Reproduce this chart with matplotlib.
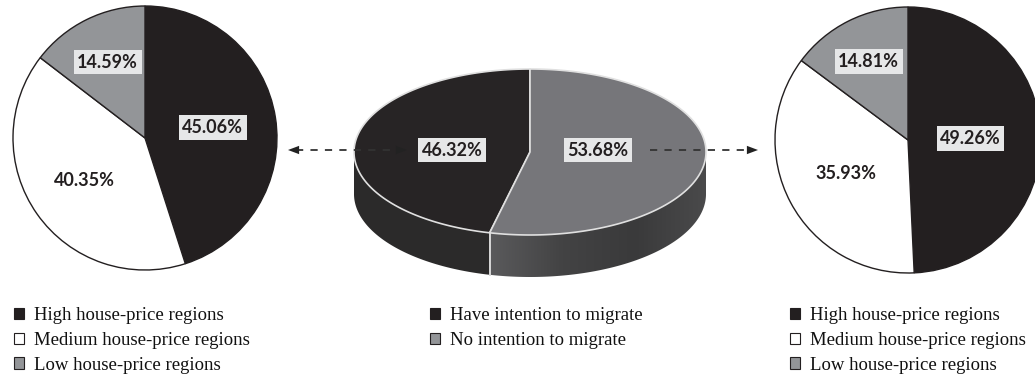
import numpy as np
import matplotlib
matplotlib.use('Agg')
import matplotlib.pyplot as plt
from matplotlib.patches import Patch, Polygon
from matplotlib.legend import Legend

# data
migrate_labels = ['Have intention to migrate', 'No intention to migrate']
migrate_share = [46.32, 53.68]

region_labels = ['High house-price regions', 'Medium house-price regions', 'Low house-price regions']
have_intention = [45.06, 40.35, 14.59]
no_intention = [49.26, 35.93, 14.81]

W, H = 1035, 375
BLACK = '#231f20'
GREY = '#939598'
BOXC = '#e6e7e8'
region_colors = [BLACK, 'white', GREY]

fig = plt.figure(figsize=(W / 100, H / 100), dpi=100)
ax = fig.add_axes([0, 0, 1, 1])


def Y(py):
    return H - py


label_font = dict(family=['Lato', 'DejaVu Sans'], weight='bold', fontsize=13, color=BLACK)


def flat_pie(values, center, radius, label_r, boxed):
    ax.pie(values, colors=region_colors, startangle=90, counterclock=False,
           center=center, radius=radius, frame=True,
           wedgeprops=dict(edgecolor=BLACK, linewidth=1.0))
    total = sum(values)
    start = 90.0
    for v, r, b in zip(values, label_r, boxed):
        span = v / total * 360
        mid = np.deg2rad(start - span / 2)
        start -= span
        x = center[0] + r * radius * np.cos(mid)
        y = center[1] + r * radius * np.sin(mid)
        bbox = dict(boxstyle='square,pad=0.2', fc=BOXC, ec='none') if b else None
        ax.text(x, y, f'{v:.2f}%', ha='center', va='center', bbox=bbox, **label_font)


flat_pie(have_intention, (145, Y(138)), 132, [0.52, 0.56, 0.64], [True, False, True])
flat_pie(no_intention, (908, Y(140)), 133, [0.47, 0.53, 0.66], [True, False, True])

# 3d pie in the middle
cx, cy, a, b, depth = 530, Y(152), 176, 83, 42
top_colors = ['#272425', '#76767a']
total = sum(migrate_share)
start = 90.0
bounds = []
for v in migrate_share:
    span = v / total * 360
    bounds.append((start, start + span))
    start += span

# sides (front half only, angles 180..360)
for i, (a0, a1) in enumerate(bounds):
    lo, hi = max(a0, 180), min(a1, 360)
    if hi <= lo:
        continue
    ts = np.deg2rad(np.linspace(lo, hi, 120))
    xs = cx + a * np.cos(ts)
    ys = cy + b * np.sin(ts)
    side = list(zip(xs, ys)) + list(zip(xs[::-1], ys[::-1] - depth))
    if i == 0:
        ax.add_patch(Polygon(side, closed=True, fc='#2b2a2a', ec='none'))
    else:
        clip = Polygon(side, closed=True, fc='none', ec='none')
        ax.add_patch(clip)
        grad = np.linspace(0.0, 1.0, 256).reshape(1, -1)
        x0, x1 = xs.min(), xs.max()
        img = ax.imshow(grad, cmap=matplotlib.colors.LinearSegmentedColormap.from_list(
            'side', ['#5a5a5c', '#434344', '#3a3a3b', '#4a4a4b']),
            extent=(x0, x1, ys.min() - depth, ys.max()), aspect='auto', zorder=1)
        img.set_clip_path(clip)
    # vertical edge at wedge border
    for t in (a0, a1):
        tt = t % 360
        if 180 < tt < 360:
            x0 = cx + a * np.cos(np.deg2rad(tt))
            y0 = cy + b * np.sin(np.deg2rad(tt))
            ax.plot([x0, x0], [y0, y0 - depth], color='#d8d8d8', lw=1.2, zorder=2)

for (a0, a1), col in zip(bounds, top_colors):
    ts = np.deg2rad(np.linspace(a0, a1, 200))
    pts = [(cx, cy)] + list(zip(cx + a * np.cos(ts), cy + b * np.sin(ts)))
    ax.add_patch(Polygon(pts, closed=True, fc=col, ec='#e0e0e0', lw=1.2, zorder=3))

ax.text(452, Y(150), f'{migrate_share[0]:.2f}%', ha='center', va='center', zorder=5,
        bbox=dict(boxstyle='square,pad=0.2', fc=BOXC, ec='none'), **label_font)
ax.text(598, Y(150), f'{migrate_share[1]:.2f}%', ha='center', va='center', zorder=5,
        bbox=dict(boxstyle='square,pad=0.2', fc=BOXC, ec='none'), **label_font)

# dashed connectors
ay = Y(150)
ax.plot([296, 399], [ay, ay], ls=(0, (4, 4)), color='#333333', lw=1.3, zorder=4)
ax.plot([650, 750], [ay, ay], ls=(0, (4, 4)), color='#333333', lw=1.3, zorder=4)
head = dict(arrowstyle='-|>,head_length=0.8,head_width=0.3', color='#222222', lw=0, shrinkA=0, shrinkB=0)
ax.annotate('', xy=(288, ay), xytext=(300, ay), arrowprops=head, zorder=4)
ax.annotate('', xy=(407, ay), xytext=(395, ay), arrowprops=head, zorder=4)
ax.annotate('', xy=(758, ay), xytext=(746, ay), arrowprops=head, zorder=4)

# legends
leg_font = dict(family='Liberation Serif', size=13.5)


def add_legend(labels, colors, x, y):
    handles = [Patch(fc=c, ec=BLACK, lw=0.8) for c in colors]
    leg = Legend(ax, handles, labels, loc='upper left', bbox_to_anchor=(x, y),
                 bbox_transform=ax.transData, frameon=False, prop=leg_font,
                 handlelength=0.55, handleheight=0.55, handletextpad=0.5,
                 labelspacing=0.42, borderpad=0, borderaxespad=0)
    for t in leg.get_texts():
        t.set_color('#111111')
    ax.add_artist(leg)


add_legend(region_labels, region_colors, 14, Y(307))
add_legend(migrate_labels, [BLACK, GREY], 430, Y(307))
add_legend(region_labels, region_colors, 790, Y(307))

ax.set_xlim(0, W)
ax.set_ylim(0, H)
ax.set_aspect('equal')
ax.axis('off')

fig.savefig('out.png', dpi=100)
